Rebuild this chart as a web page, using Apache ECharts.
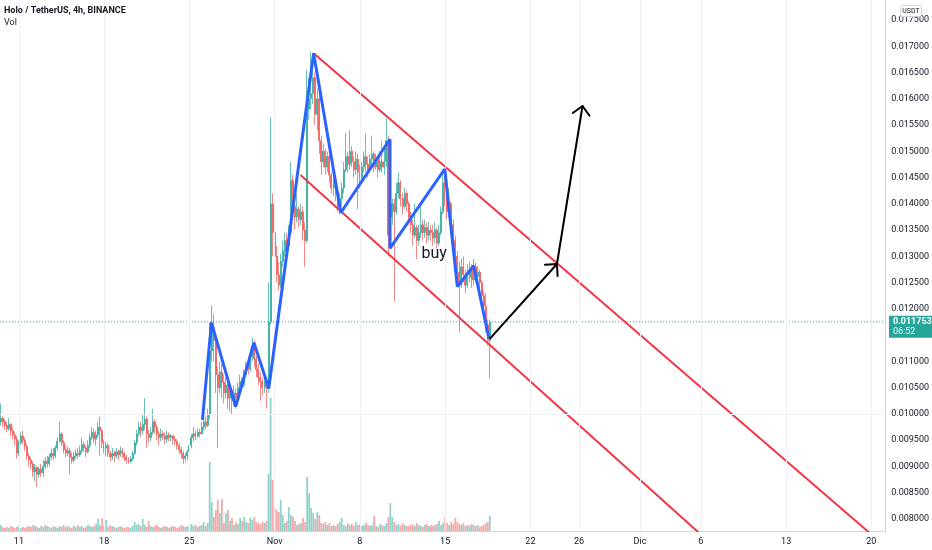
<!DOCTYPE html>
<html><head><meta charset="utf-8">
<script src="https://cdn.jsdelivr.net/npm/echarts@6/dist/echarts.min.js"></script>
<style>html,body{margin:0;padding:0;background:#fff}#c{width:932px;height:550px}</style>
</head><body><div id="c"></div>
<script>
// ---- data (prices in units of 0.00001 USDT, 4h bars) ----
const firstBarDay = 9.5;   // Oct 9, 12:00 (days counted from Oct 0)
const barsPerDay = 6;
const firstOpen = 985;
const closeE5 = [
 992,985,978,
 972,980,968,960,952,925, 945,958,950,938,920,912, 905,890,898,885,895,888,
 900,910,905,918,925,920, 935,948,962,945,932,925, 930,918,912,920,925,922,
 930,942,935,928,940,955, 965,952,960,975,968,945, 935,940,925,918,925,920,
 928,922,930,925,918,912, 910,915,925,945,962,975, 968,980,990,962,955,965,
 985,975,962,955,962,958, 952,960,955,958,952,948, 940,932,925,915,920,928,
 940,955,962,958,965,962, 975,985,978,1000,1120,1165, 1140,1075,1050,1080,1060,1040,
 1055,1030,1045,1025,1040,1030, 1050,1062,1055,1075,1090,1085, 1110,1130,1105,1085,1070,1062,
 1050,1062,1048,1175,1400,1345, 1300,1265,1245,1290,1310,1330, 1320,1345,1445,1395,1375,1390,
 1370,1385,1350,1330,1580,1600, 1610,1640,1570,1600,1520,1480, 1500,1470,1490,1455,1430,1445,
 1420,1395,1410,1430,1465,1490, 1475,1500,1480,1465,1485,1460, 1450,1470,1490,1475,1465,1485,
 1495,1470,1485,1465,1480,1470, 1480,1520,1340,1375,1400,1385, 1420,1440,1410,1395,1420,1400,
 1375,1360,1340,1355,1330,1345, 1360,1345,1355,1340,1350,1345, 1335,1350,1325,1345,1385,1440,
 1410,1385,1400,1360,1330,1300, 1270,1245,1280,1265,1245,1260, 1275,1255,1280,1262,1270,1250,
 1225,1205,1170,1140,1175];
const highE5 = [
 1020,995,990,
 985,992,982,975,965,958, 950,965,968,955,942,925, 918,910,905,902,900,905,
 912,918,920,925,935,935, 940,955,985,965,950,940, 938,935,925,928,932,935,
 940,955,948,940,950,962, 975,972,968,985,995,972, 950,948,945,930,935,930,
 935,932,938,935,928,922, 918,920,930,950,970,985, 985,1000,1030,995,970,975,
 1010,990,980,968,972,968, 965,968,965,962,960,958, 952,945,938,930,925,932,
 945,962,975,968,972,972, 985,992,995,1010,1175,1207, 1190,1150,1090,1100,1095,1075,
 1070,1065,1060,1050,1055,1048, 1060,1075,1070,1085,1100,1105, 1125,1145,1140,1110,1095,1080,
 1070,1075,1068,1250,1565,1420, 1480,1320,1290,1305,1330,1345, 1345,1360,1480,1455,1410,1420,
 1395,1400,1395,1365,1655,1640, 1690,1680,1650,1620,1610,1530, 1515,1505,1500,1495,1460,1455,
 1450,1430,1420,1440,1480,1535, 1500,1540,1510,1490,1500,1495, 1475,1480,1500,1535,1490,1495,
 1530,1500,1495,1490,1500,1520, 1505,1563,1530,1395,1410,1410, 1440,1460,1445,1420,1430,1425,
 1405,1385,1370,1400,1360,1360, 1395,1370,1370,1365,1365,1360, 1360,1365,1355,1360,1395,1465,
 1462,1420,1430,1405,1370,1340, 1310,1290,1295,1300,1275,1285, 1290,1285,1295,1288,1282,1275,
 1255,1235,1230,1180,1180];
const lowE5 = [
 978,975,970,
 965,968,958,952,940,915, 920,940,942,930,912,900, 895,880,872,861,878,880,
 880,895,898,900,912,912, 915,930,945,938,925,918, 920,885,905,908,915,915,
 918,925,928,918,925,935, 950,945,940,955,920,935, 925,920,918,910,912,908,
 915,912,918,915,910,905, 905,906,910,922,940,958, 955,960,970,935,945,948,
 960,962,950,940,948,950, 942,945,948,948,942,940, 932,925,915,905,908,912,
 925,935,948,950,955,955, 962,968,970,975,990,1100, 1100,1040,935,1040,1030,1020,
 1030,1010,1005,1000,1015,1010, 1020,1040,1045,1050,1070,1075, 1080,1100,1090,1070,1055,1025,
 1035,1040,1010,1040,1170,1300, 1280,1250,1235,1240,1280,1300, 1300,1310,1340,1380,1350,1365,
 1355,1360,1330,1280,1325,1560, 1580,1590,1550,1540,1495,1455, 1470,1455,1460,1440,1420,1415,
 1405,1385,1380,1395,1420,1460, 1460,1465,1470,1450,1455,1390, 1430,1440,1460,1460,1450,1460,
 1475,1460,1465,1450,1460,1460, 1455,1470,1300,1320,1360,1215, 1380,1410,1395,1380,1390,1385,
 1360,1345,1320,1335,1295,1320, 1335,1330,1335,1325,1330,1330, 1320,1325,1315,1320,1340,1380,
 1395,1370,1375,1340,1310,1280, 1250,1155,1240,1250,1230,1240, 1250,1240,1245,1250,1248,1235,
 1210,1185,1155,1130,1068];
const volume = [
 6,4,3,
 4,3,5,4,3,4, 5,3,4,3,4,5, 4,6,5,4,3,5, 4,6,5,4,3,5, 4,3,5,4,6,4, 5,4,3,5,4,6,
 4,5,3,4,6,5, 4,5,7,12,6,13, 5,11,4,6,5,4, 3,4,5,4,3,4, 4,3,5,9,6,7, 5,12,6,4,10,5,
 4,5,6,4,3,4, 5,4,3,4,5,4, 3,4,6,5,4,5, 4,7,5,6,4,5, 6,9,5,8,69,29, 14,21,31,18,32,8,
 18,21,10,13,6,9, 7,13,10,14,9,8, 13,11,14,9,8,7, 9,8,10,57,133,51, 23,21,19,31,16,8,
 10,24,16,14,10,6, 7,8,13,9,54,38, 23,18,12,19,16,8, 7,9,6,8,5,6, 5,7,9,13,6,5,
 8,6,7,5,9,6, 7,5,6,8,6,5, 6,15,5,4,7,6, 5,8,14,28,14,9, 6,7,5,8,6,5, 5,6,7,5,8,6,
 5,4,6,7,5,6, 5,6,7,10,6,8, 14,8,6,9,7,13, 9,7,6,8,5,6, 5,7,6,5,6,4, 5,6,8,9,15];
const priceTicks = [0.0080,0.0085,0.0090,0.0095,0.0100,0.0105,0.0110,0.0115,0.0120,0.0125,
  0.0130,0.0135,0.0140,0.0145,0.0150,0.0155,0.0160,0.0165,0.0170,0.0175];
const dateTicks = [11,18,25,32,39,46,53,57,62,67,74,81];
const dateLabels = ['11','18','25','Nov','8','15','22','26','Dic','6','13','20'];
const lastPrice = 0.011753;
const countdown = '06:52';
const zigzag = [[26.07,0.009885],[26.81,0.011737],[28.80,0.010138],[30.30,0.011356],[31.52,0.010488],
  [35.20,0.016866],[37.43,0.013831],[41.47,0.015229],[41.47,0.013154],[45.97,0.014663],
  [47.00,0.012423],[48.34,0.012822],[49.59,0.011440]];
const channelUpper = [[35.20,0.016866],[84.53,0.0070]];
const channelLower = [[34.12,0.014550],[70.38,0.0070]];
const arrows = [[49.70,0.011440,55.18,0.012855],[55.18,0.012855,57.28,0.015863]];
const note = [[45.10,0.013045,'buy']];

// ---- build ----
const X_MIN = 9.4465, X_MAX = 82.137, Y_MIN = 0.0077714, Y_MAX = 0.0178808;
const GREEN = '#26a69a', RED = '#ef5350';
const candles = [], vols = [];
for (let i = 0; i < closeE5.length; i++) {
  const t = firstBarDay + i / barsPerDay;
  const o = i === 0 ? firstOpen : closeE5[i - 1];
  const c = closeE5[i];
  candles.push([t, o / 1e5, c / 1e5, lowE5[i] / 1e5, highE5[i] / 1e5]);
  vols.push({value: [t, volume[i]], itemStyle: {color: c >= o ? 'rgba(38,166,154,0.5)' : 'rgba(239,83,80,0.5)'}});
}
const FONT = 'Roboto, "Noto Sans", sans-serif';
const chart = echarts.init(document.getElementById('c'), null, {renderer: 'canvas'});
const option = {
  animation: false,
  backgroundColor: '#ffffff',
  grid: {left: 0, right: 43, top: 0, bottom: 19},
  xAxis: {
    type: 'value', min: X_MIN, max: X_MAX,
    axisLine: {show: true, lineStyle: {color: '#d1d4dc'}},
    axisTick: {show: false},
    splitLine: {show: false},
    axisLabel: {customValues: dateTicks, formatter: v => dateLabels[dateTicks.indexOf(v)],
      color: '#131722', fontSize: 9, fontFamily: FONT, margin: 6}
  },
  yAxis: [{
    type: 'value', position: 'right', min: Y_MIN, max: Y_MAX,
    axisLine: {show: true, lineStyle: {color: '#d1d4dc'}},
    axisTick: {show: false},
    splitLine: {show: false},
    axisLabel: {customValues: priceTicks, formatter: v => v.toFixed(6),
      color: '#131722', fontSize: 9, fontFamily: FONT, margin: 6}
  }, {
    type: 'value', min: 0, max: 531, show: false
  }],
  series: [{
    type: 'line', silent: true, z: 0, data: [[X_MIN, Y_MIN]], showSymbol: false,
    lineStyle: {opacity: 0},
    markLine: {silent: true, symbol: 'none', label: {show: false},
      lineStyle: {color: '#eef1f6', width: 1, type: 'solid'},
      data: priceTicks.map(v => ({yAxis: v})).concat(dateTicks.map(v => ({xAxis: v})))}
  }, {
    type: 'line', silent: true, z: 3, data: [[X_MIN, lastPrice], [X_MAX, lastPrice]], showSymbol: false,
    symbol: 'none', lineStyle: {color: GREEN, width: 1, type: [1, 2]}
  }, {
    type: 'bar', yAxisIndex: 1, data: vols, barWidth: 1.8, z: 1, silent: true
  }, {
    type: 'candlestick', data: candles, encode: {x: 0, y: [1, 2, 3, 4]}, barWidth: 1.5, z: 2,
    itemStyle: {color: GREEN, color0: RED, borderColor: GREEN, borderColor0: RED, borderWidth: 0.7}
  }, {
    type: 'line', data: zigzag, showSymbol: false, symbol: 'none', z: 5, silent: true,
    lineStyle: {color: '#2962ff', width: 3}
  }, {
    type: 'line', data: channelUpper, showSymbol: false, symbol: 'none', z: 4, silent: true, clip: true,
    lineStyle: {color: '#f23645', width: 2}
  }, {
    type: 'line', data: channelLower, showSymbol: false, symbol: 'none', z: 4, silent: true, clip: true,
    lineStyle: {color: '#f23645', width: 2}
  }, {
    type: 'custom', data: arrows, z: 6, silent: true, encode: {x: [0, 2], y: [1, 3]},
    renderItem: function (params, api) {
      const a = api.coord([api.value(0), api.value(1)]);
      const b = api.coord([api.value(2), api.value(3)]);
      const ang = Math.atan2(a[1] - b[1], a[0] - b[0]);
      const L = 12, s = Math.PI / 4;
      const p1 = [b[0] + L * Math.cos(ang + s), b[1] + L * Math.sin(ang + s)];
      const p2 = [b[0] + L * Math.cos(ang - s), b[1] + L * Math.sin(ang - s)];
      const st = {stroke: '#000', lineWidth: 2, fill: null, lineCap: 'round', lineJoin: 'round'};
      return {type: 'group', children: [
        {type: 'polyline', shape: {points: [a, b]}, style: st},
        {type: 'polyline', shape: {points: [p1, b, p2]}, style: st}
      ]};
    }
  }, {
    type: 'custom', data: note, z: 7, silent: true, encode: {x: 0, y: 1},
    renderItem: function (params, api) {
      const p = api.coord([api.value(0), api.value(1)]);
      return {type: 'text', x: p[0], y: p[1], style: {text: note[params.dataIndex][2],
        fill: '#131722', font: '16px ' + FONT, align: 'center', verticalAlign: 'middle'}};
    }
  }]
};
chart.setOption(option);
const py = chart.convertToPixel({yAxisIndex: 0}, lastPrice);
chart.setOption({graphic: [
  {type: 'text', left: 4, top: 6, z: 100, style: {text: 'Holo / TetherUS, 4h, BINANCE', fill: '#131722',
    font: 'bold 9px ' + FONT}},
  {type: 'text', left: 4, top: 18, z: 100, style: {text: 'Vol', fill: '#131722', font: '9px ' + FONT}},
  {type: 'rect', z: 100, shape: {x: 900.5, y: 5.5, width: 21, height: 11, r: 2},
    style: {fill: '#fff', stroke: '#d1d4dc', lineWidth: 1}},
  {type: 'text', z: 101, x: 911, y: 11, style: {text: 'USDT', fill: '#131722', font: '7px ' + FONT,
    align: 'center', verticalAlign: 'middle'}},
  {type: 'rect', z: 100, shape: {x: 889, y: py - 6, width: 43, height: 22}, style: {fill: GREEN}},
  {type: 'text', z: 101, x: 893, y: py, style: {text: lastPrice.toFixed(6), fill: '#fff',
    font: 'bold 9px ' + FONT, verticalAlign: 'middle'}},
  {type: 'text', z: 101, x: 893, y: py + 10, style: {text: countdown, fill: '#e8f5f3',
    font: '9px ' + FONT, verticalAlign: 'middle'}}
]});
</script></body></html>
